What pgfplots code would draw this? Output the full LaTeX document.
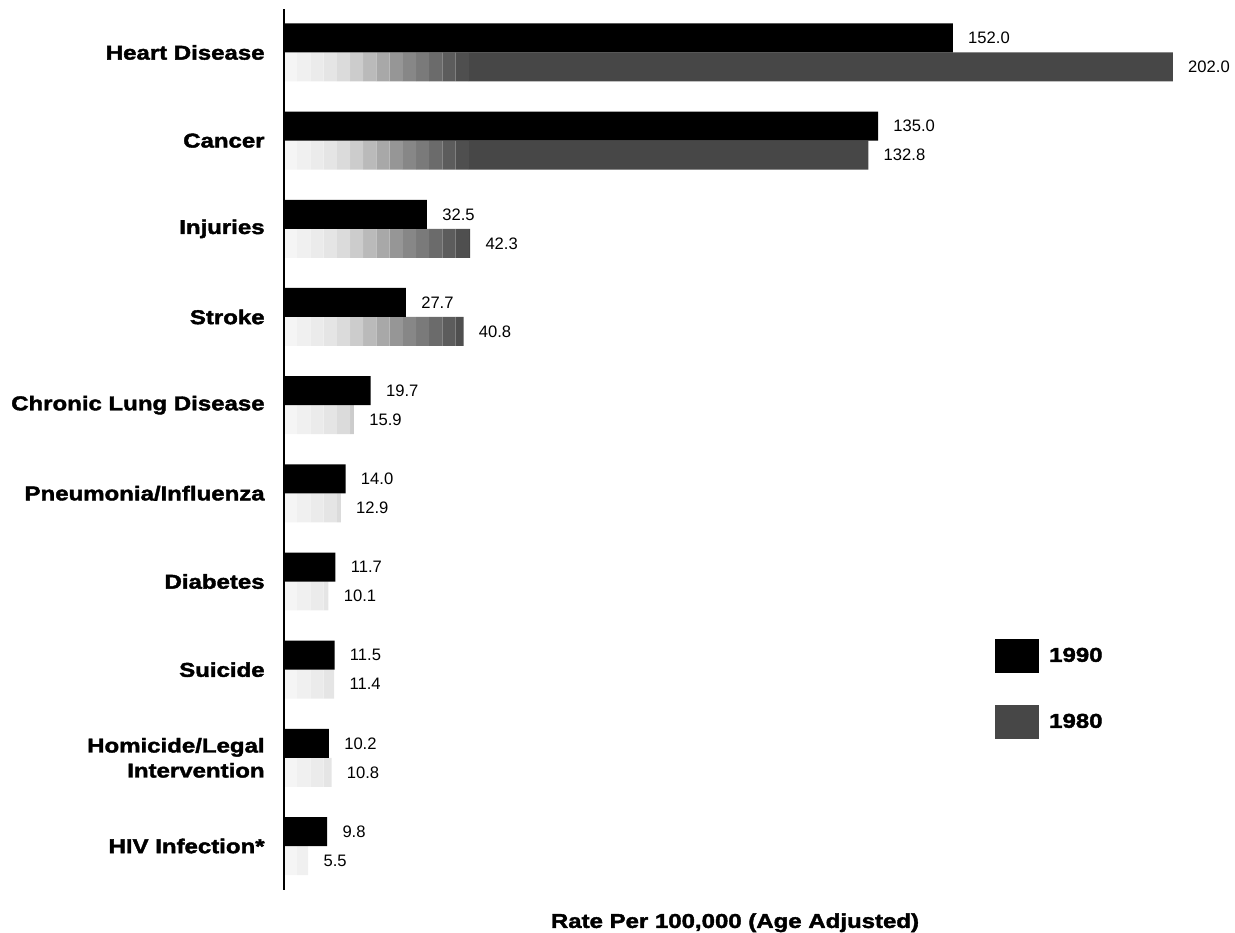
\documentclass[border=0pt]{standalone}
\usepackage{pgfplots}
\usepackage{pgfplotstable}
\pgfplotsset{compat=1.18}
\usepackage{fontspec}
\setmainfont{Liberation Sans}
\newfontfamily\heavy[FakeStretch=1.2, FakeBold=2]{Liberation Sans Bold}
\newcommand\catfont{\heavy\fontsize{10bp}{12.5bp}\selectfont}
\newcommand\valfont{\fontsize{8.3bp}{10bp}\selectfont}

% age-adjusted death rates per 100,000
\pgfplotstableread{
idx r90   r80
0   152.0 202.0
1   135.0 132.8
2   32.5  42.3
3   27.7  40.8
4   19.7  15.9
5   14.0  12.9
6   11.7  10.1
7   11.5  11.4
8   10.2  10.8
9   9.8   5.5
}\rates

\pgfplotsset{
  frame/.style={scale only axis, width=451bp, height=440.5bp,
    xmin=0, xmax=205, ymin=-0.493, ymax=9.499, y dir=reverse,
    bar width=14.5bp},
  % one stretch [#1,#2] of a 1980 bar, in grey #3 (stippled grey deepens with the rate)
  seg/.style n args={3}{fill=black!#3, draw=none,
    x filter/.expression={max(0,min(x,#2)-#1)}},
}

\begin{document}
\begin{tikzpicture}
% 1980 bars, built up from pale to dark grey along the rate axis
\begin{axis}[frame, hide axis, xbar stacked, bar shift=-7.25bp]
\addplot[seg={0}{3}{4}]   table[x=r80,y=idx]{\rates};
\addplot[seg={3}{6}{6}]   table[x=r80,y=idx]{\rates};
\addplot[seg={6}{9}{8}]   table[x=r80,y=idx]{\rates};
\addplot[seg={9}{12}{10}] table[x=r80,y=idx]{\rates};
\addplot[seg={12}{15}{14}] table[x=r80,y=idx]{\rates};
\addplot[seg={15}{18}{20}] table[x=r80,y=idx]{\rates};
\addplot[seg={18}{21}{27}] table[x=r80,y=idx]{\rates};
\addplot[seg={21}{24}{34}] table[x=r80,y=idx]{\rates};
\addplot[seg={24}{27}{41}] table[x=r80,y=idx]{\rates};
\addplot[seg={27}{30}{47}] table[x=r80,y=idx]{\rates};
\addplot[seg={30}{33}{52}] table[x=r80,y=idx]{\rates};
\addplot[seg={33}{36}{58}] table[x=r80,y=idx]{\rates};
\addplot[seg={36}{39}{64}] table[x=r80,y=idx]{\rates};
\addplot[seg={39}{42}{69}] table[x=r80,y=idx]{\rates};
\addplot[seg={42}{1000}{72}] table[x=r80,y=idx]{\rates};
\end{axis}
\begin{axis}[
  frame, name=ax,
  xbar,
  axis lines*=left,
  x axis line style={draw=none},
  y axis line style={line width=1bp},
  xtick=\empty,
  ytick={0,...,9},
  yticklabels={Heart Disease, Cancer, Injuries, Stroke, Chronic Lung Disease,
    Pneumonia/Influenza, Diabetes, Suicide, {Homicide/Legal\\Intervention},
    HIV Infection*},
  yticklabel style={font=\catfont, align=right, inner sep=0pt, xshift=-9.5bp},
  major tick length=0pt,
  xlabel={Rate Per 100,000 (Age Adjusted)},
  every axis x label/.style={at={(rel axis cs:0.5,0)}, anchor=north,
    inner sep=0pt, yshift=-11.5bp, font=\catfont},
  /pgf/number format/assume math mode=true,
  nodes near coords={\pgfmathprintnumber[fixed,fixed zerofill,precision=1]{\pgfplotspointmeta}},
  every node near coord/.append style={font=\valfont, text=black, anchor=west,
    inner sep=0pt, xshift=7.5bp},
  point meta=x,
  clip=false,
  legend style={at={(rel axis cs:0.788,0.285)}, anchor=north west,
    draw=none, fill=none, inner sep=0pt, row sep=16bp, column sep=5bp,
    font=\catfont, nodes={inner sep=0pt}},
  legend cell align=left,
]
% 1990: solid black bars
\addplot[fill=black, draw=none, bar shift=7.25bp,
  legend image code/.code={\fill[black] (0bp,-8.5bp) rectangle (22bp,8.5bp);}]
  table[x=r90,y=idx]{\rates};
\addlegendentry{1990}
% 1980: value labels (the bars themselves are drawn above)
\addplot[fill=none, draw=none, bar shift=-7.25bp,
  legend image code/.code={\fill[black!72] (0bp,-8.5bp) rectangle (22bp,8.5bp);}]
  table[x=r80,y=idx]{\rates};
\addlegendentry{1980}
\end{axis}
\pgfresetboundingbox
\path[use as bounding box] ([shift={(-142bp,-21.5bp)}]ax.south west)
  rectangle ([shift={(24.5bp,4.5bp)}]ax.north east);
\end{tikzpicture}
\end{document}
